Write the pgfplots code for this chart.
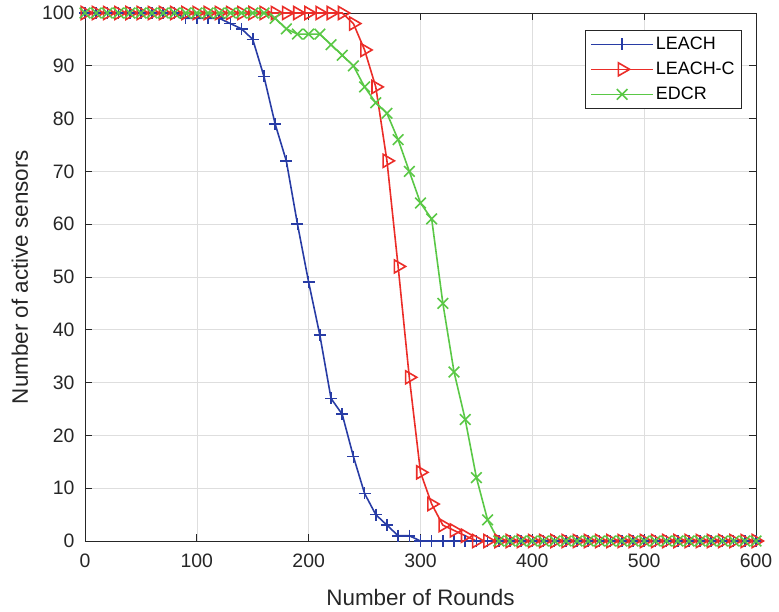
\documentclass[border=0pt]{standalone}
\usepackage{pgfplots}
\pgfplotsset{compat=1.18}
\usepackage{pgfplotstable}
\usepackage{fontspec}
\setmainfont{Liberation Sans}

\definecolor{cLeach}{RGB}{40,60,165}
\definecolor{cLeachC}{RGB}{235,45,40}
\definecolor{cEdcr}{RGB}{90,200,70}
\definecolor{axgray}{RGB}{38,38,38}

% rounds, LEACH, LEACH-C, EDCR
\pgfplotstableread{
x leach leachc edcr
0 100 100 100
10 100 100 100
20 100 100 100
30 100 100 100
40 100 100 100
50 100 100 100
60 100 100 100
70 100 100 100
80 100 100 100
90 99 100 100
100 99 100 100
110 99 100 100
120 99 100 100
130 98 100 100
140 97 100 100
150 95 100 100
160 88 100 100
170 79 100 99
180 72 100 97
190 60 100 96
200 49 100 96
210 39 100 96
220 27 100 94
230 24 100 92
240 16 98 90
250 9 93 86
260 5 86 83
270 3 72 81
280 1 52 76
290 1 31 70
300 0 13 64
310 0 7 61
320 0 3 45
330 0 2 32
340 0 1 23
350 0 0 12
360 0 0 4
370 0 0 0
380 0 0 0
390 0 0 0
400 0 0 0
410 0 0 0
420 0 0 0
430 0 0 0
440 0 0 0
450 0 0 0
460 0 0 0
470 0 0 0
480 0 0 0
490 0 0 0
500 0 0 0
510 0 0 0
520 0 0 0
530 0 0 0
540 0 0 0
550 0 0 0
560 0 0 0
570 0 0 0
580 0 0 0
590 0 0 0
600 0 0 0
}\sensors

\begin{document}
\begin{tikzpicture}
\path[use as bounding box] (-85bp,-71bp) rectangle (694bp,541bp);
\begin{axis}[
    scale only axis,
    width=671bp, height=528bp,
    xmin=0, xmax=600, ymin=0, ymax=100,
    xtick={0,100,...,600},
    ytick={0,10,...,100},
    tick pos=both,
    tick align=inside,
    major tick length=7bp,
    grid=major,
    major grid style={draw=black!13, line width=0.6pt},
    axis line style={draw=axgray, line width=0.7pt},
    every tick/.style={draw=axgray, line width=0.7pt},
    /pgf/number format/assume math mode=true,
    ticklabel style={font=\fontsize{19.5}{22}\selectfont, text=axgray},
    xticklabel style={yshift=-9bp},
    yticklabel style={xshift=-7bp},
    xlabel={Number of Rounds},
    ylabel={Number of active sensors},
    label style={font=\fontsize{22.5}{26}\selectfont, text=axgray},
    xlabel style={at={(axis description cs:0.5,0)}, anchor=center, yshift=-56bp},
    ylabel style={at={(axis description cs:-0.0969,0.5)}, anchor=center},
    legend style={at={(1,1)}, anchor=north east, xshift=-14bp, yshift=-17bp,
        font=\fontsize{18}{20}\selectfont, draw=axgray, line width=0.7pt,
        inner xsep=5bp, inner ysep=5bp, row sep=7bp},
    legend cell align=left,
    legend image code/.code={
        \draw[line width=1.6pt, mark repeat=2, mark phase=2]
            plot coordinates {(0bp,0bp) (31bp,0bp) (62bp,0bp)};
    },
    every axis plot/.append style={line width=1.6pt},
]
\addplot[cLeach, mark=+, mark size=6bp] table[x=x, y=leach] {\sensors};
\addlegendentry{LEACH}
\addplot[cLeachC, mark=triangle, mark size=7.5bp, mark options={rotate=-90}] table[x=x, y=leachc] {\sensors};
\addlegendentry{LEACH-C}
\addplot[cEdcr, mark=x, mark size=7.5bp] table[x=x, y=edcr] {\sensors};
\addlegendentry{EDCR}
\end{axis}
\end{tikzpicture}
\end{document}
